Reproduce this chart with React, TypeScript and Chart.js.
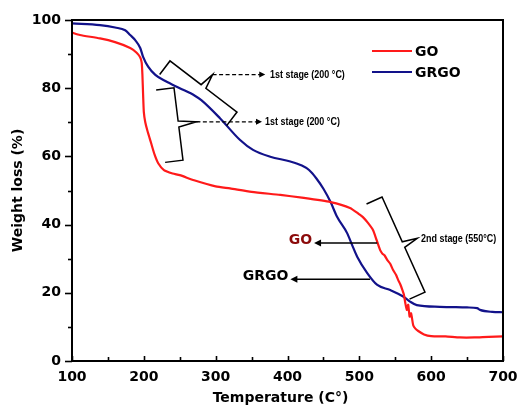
import React, { useEffect, useRef } from "react";
import { Chart, registerables } from "chart.js";

Chart.register(...registerables);

// Thermogravimetric curves: temperature (°C) vs remaining weight (%)
const goTemp = [
  100, 111, 139, 160, 181, 190, 195, 197, 198, 199, 200, 202, 205, 210, 215, 220, 228, 240, 250,
  270, 300, 320, 350, 390, 420, 460, 487, 500, 505, 512, 519, 524, 529, 532, 535, 539, 543, 547,
  551, 554, 557, 560, 562, 564, 566, 568, 570, 572, 575, 578, 582, 590, 600, 620, 640, 660, 680, 700,
];
const goWeight = [
  96.3, 95.6, 94.6, 93.5, 91.8, 90.4, 89.0, 87.5, 84.0, 78.0, 73.0, 70.0, 67.5, 64.0, 60.5, 58.0,
  56.0, 55.0, 54.5, 53.0, 51.2, 50.6, 49.6, 48.7, 47.9, 46.6, 44.9, 43.0, 42.2, 40.5, 38.4, 35.5,
  32.5, 31.5, 31.0, 29.6, 28.5, 26.7, 25.3, 23.8, 22.5, 20.8, 19.5, 17.0, 15.0, 16.5, 13.0, 14.0,
  10.5, 9.5, 8.8, 7.8, 7.3, 7.2, 6.9, 6.9, 7.1, 7.2,
];

const grgoTemp = [
  100, 139, 160, 174, 181, 188, 195, 199, 206, 216, 230, 250, 271, 280, 306, 334, 352, 376, 404,
  420, 430, 440, 450, 460, 469, 483, 490, 497, 511, 525, 543, 561, 570, 580, 612, 650, 664, 668, 685, 700,
];
const grgoWeight = [
  99.0, 98.5, 97.8, 97.0, 95.6, 94.1, 91.8, 89.2, 86.3, 83.9, 82.1, 80.0, 77.8, 76.5, 71.2, 64.8,
  61.9, 59.9, 58.5, 57.3, 56.0, 53.6, 50.5, 46.6, 42.3, 37.5, 34.0, 30.6, 25.8, 22.3, 20.8, 18.9,
  17.5, 16.4, 15.9, 15.7, 15.5, 15.0, 14.4, 14.3,
];

const seriesLabels = ["GO", "GRGO"];
const seriesColors = ["#ff1a1a", "#12128a"];

const xTickValues = [100, 200, 300, 400, 500, 600, 700];
const yTickValues = [0, 20, 40, 60, 80, 100];

const xTitle = "Temperature (C°)";
const yTitle = "Weight loss (%)";

const stageLabels = ["1st stage (200 °C)", "1st stage (200 °C)", "2nd stage (550°C)"];
const calloutLabels = ["GO", "GRGO"];

// Brace end points (data units), tip/hook sizes (px), arrow end and text x (data units)
const braces = [
  { a: [236.4, 88.0], b: [329.7, 73.0], tip: 15, hook: 17, arrowTo: 369, textAt: 375.6, label: 0 },
  { a: [242.0, 80.1], b: [254.5, 58.9], tip: 18, hook: 18, arrowTo: 364.5, textAt: 368.7, label: 1 },
  { a: [531.6, 48.1], b: [591.4, 20.2], tip: 15, hook: 17, arrowTo: null, textAt: 585.8, label: 2 },
];

// Callout arrows: from (x0, y) to arrow tip at x1
const callouts = [
  { x0: 525, x1: 437, y: 34.6, color: "#8b0a0a", label: 0 },
  { x0: 515, x1: 404, y: 24.0, color: "#000000", label: 1 },
];

const BOLD = "bold 14px 'DejaVu Sans', sans-serif";
const SMALL = "bold 11.5px 'Liberation Sans', sans-serif";

function arrowHead(ctx: CanvasRenderingContext2D, x: number, y: number, dir: number, len = 6, half = 3) {
  ctx.beginPath();
  ctx.moveTo(x, y);
  ctx.lineTo(x - dir * len, y - half);
  ctx.lineTo(x - dir * len, y + half);
  ctx.closePath();
  ctx.fill();
}

// condensed small text
function narrowText(ctx: CanvasRenderingContext2D, text: string, x: number, y: number) {
  ctx.save();
  ctx.translate(x, y);
  ctx.scale(0.78, 1);
  ctx.font = SMALL;
  ctx.textAlign = "left";
  ctx.textBaseline = "middle";
  ctx.fillText(text, 0, 0);
  ctx.restore();
}

function drawBrace(
  ctx: CanvasRenderingContext2D,
  ax: number, ay: number, bx: number, by: number,
  hook: number, tip: number
): [number, number] {
  const dx = bx - ax;
  const dy = by - ay;
  const L = Math.hypot(dx, dy);
  const ux = dx / L;
  const uy = dy / L;
  const nx = uy;
  const ny = -ux;
  const mx = (ax + bx) / 2;
  const my = (ay + by) / 2;
  const tx = mx + nx * tip;
  const ty = my + ny * tip;
  ctx.beginPath();
  ctx.moveTo(ax - nx * hook, ay - ny * hook);
  ctx.lineTo(ax, ay);
  ctx.lineTo(mx - ux * 3, my - uy * 3);
  ctx.lineTo(tx, ty);
  ctx.lineTo(mx + ux * 3, my + uy * 3);
  ctx.lineTo(bx, by);
  ctx.lineTo(bx - nx * hook, by - ny * hook);
  ctx.stroke();
  return [tx, ty];
}

const decorPlugin = {
  id: "decor",
  afterDraw(chart: any) {
    const { ctx, chartArea: a, scales } = chart;
    const x = scales.x;
    const y = scales.y;
    ctx.save();

    // frame
    ctx.strokeStyle = "#000";
    ctx.lineWidth = 2;
    ctx.strokeRect(a.left, a.top, a.right - a.left, a.bottom - a.top);

    // y ticks (outward), major every 20, minor every 10
    ctx.lineWidth = 1.6;
    for (let v = 0; v <= 100; v += 10) {
      const py = Math.round(y.getPixelForValue(v)) + 0.5;
      const len = v % 20 === 0 ? 7 : 4;
      ctx.beginPath();
      ctx.moveTo(a.left - len, py);
      ctx.lineTo(a.left, py);
      ctx.stroke();
    }
    // x ticks (inward), major every 100, minor every 50
    for (let v = 100; v <= 700; v += 50) {
      const px = Math.round(x.getPixelForValue(v)) + 0.5;
      const len = v % 100 === 0 ? 5 : 4;
      ctx.beginPath();
      ctx.moveTo(px, a.bottom);
      ctx.lineTo(px, a.bottom - len);
      ctx.stroke();
    }

    // x axis title
    ctx.fillStyle = "#000";
    ctx.font = BOLD;
    ctx.textAlign = "center";
    ctx.textBaseline = "middle";
    ctx.fillText(xTitle, (a.left + a.right) / 2 - 7, chart.height - 9);

    // legend
    const ds = chart.data.datasets;
    ds.forEach((d: any, i: number) => {
      const ly = a.top + 31 + i * 21;
      ctx.strokeStyle = d.borderColor;
      ctx.lineWidth = 2;
      ctx.beginPath();
      ctx.moveTo(a.left + 300, ly);
      ctx.lineTo(a.left + 340, ly);
      ctx.stroke();
      ctx.fillStyle = "#000";
      ctx.font = BOLD;
      ctx.textAlign = "left";
      ctx.textBaseline = "middle";
      ctx.fillText(d.label, a.left + 343, ly + 1);
    });

    // stage braces with dashed arrows
    ctx.strokeStyle = "#000";
    ctx.fillStyle = "#000";
    braces.forEach((b) => {
      ctx.lineWidth = 1.5;
      ctx.setLineDash([]);
      const [tx, ty] = drawBrace(
        ctx,
        x.getPixelForValue(b.a[0]), y.getPixelForValue(b.a[1]),
        x.getPixelForValue(b.b[0]), y.getPixelForValue(b.b[1]),
        b.hook, b.tip
      );
      if (b.arrowTo !== null) {
        const ex = x.getPixelForValue(b.arrowTo);
        ctx.lineWidth = 1.3;
        ctx.setLineDash([4, 2.5]);
        ctx.beginPath();
        ctx.moveTo(tx, ty);
        ctx.lineTo(ex - 5, ty);
        ctx.stroke();
        ctx.setLineDash([]);
        arrowHead(ctx, ex, ty, 1, 6, 3);
      }
      narrowText(ctx, stageLabels[b.label], x.getPixelForValue(b.textAt), ty);
    });

    // callout arrows
    callouts.forEach((c) => {
      const py = y.getPixelForValue(c.y);
      const x0 = x.getPixelForValue(c.x0);
      const x1 = x.getPixelForValue(c.x1);
      ctx.strokeStyle = "#000";
      ctx.fillStyle = "#000";
      ctx.lineWidth = 1.5;
      ctx.setLineDash([]);
      ctx.beginPath();
      ctx.moveTo(x0, py);
      ctx.lineTo(x1 + 5, py);
      ctx.stroke();
      arrowHead(ctx, x1, py, -1, 7, 3.5);
      ctx.fillStyle = c.color;
      ctx.font = BOLD;
      ctx.textAlign = "right";
      ctx.textBaseline = "middle";
      ctx.fillText(calloutLabels[c.label], x1 - 2, py - 3);
    });

    ctx.restore();
  },
};

export default function App() {
  const ref = useRef<HTMLCanvasElement | null>(null);

  useEffect(() => {
    if (!ref.current) return;
    const tickFont = { family: "'DejaVu Sans', sans-serif", weight: "bold" as const, size: 14 };
    const chart = new Chart(ref.current, {
      type: "line",
      data: {
        datasets: [
          {
            label: seriesLabels[0],
            data: goTemp.map((t, i) => ({ x: t, y: goWeight[i] })),
            borderColor: seriesColors[0],
            borderWidth: 2.2,
            pointRadius: 0,
            tension: 0.2,
          },
          {
            label: seriesLabels[1],
            data: grgoTemp.map((t, i) => ({ x: t, y: grgoWeight[i] })),
            borderColor: seriesColors[1],
            borderWidth: 2.2,
            pointRadius: 0,
            cubicInterpolationMode: "monotone",
          },
        ],
      },
      options: {
        animation: false,
        responsive: false,
        events: [],
        layout: { padding: { top: 20, right: 15, left: 0, bottom: 0 } },
        plugins: { legend: { display: false }, tooltip: { enabled: false } },
        scales: {
          x: {
            type: "linear",
            min: 100,
            max: 700,
            afterFit: (s: any) => {
              s.height = 46;
              s.paddingLeft = 0;
              s.paddingRight = 0;
            },
            afterBuildTicks: (s: any) => {
              s.ticks = xTickValues.map((v) => ({ value: v }));
            },
            grid: { display: false, drawTicks: false },
            border: { display: false },
            ticks: { font: tickFont, color: "#000", padding: 8, maxRotation: 0, autoSkip: false },
            title: { display: false, text: xTitle },
          },
          y: {
            type: "linear",
            min: 0,
            max: 100,
            afterFit: (s: any) => {
              s.width = 72;
              s.paddingTop = 0;
              s.paddingBottom = 0;
            },
            afterBuildTicks: (s: any) => {
              s.ticks = yTickValues.map((v) => ({ value: v }));
            },
            grid: { display: false, drawTicks: false },
            border: { display: false },
            ticks: { font: tickFont, color: "#000", padding: 11, autoSkip: false },
            title: {
              display: true,
              text: yTitle,
              color: "#000",
              font: tickFont,
              padding: { top: 10, bottom: 0 },
            },
          },
        },
      },
      plugins: [decorPlugin],
    });
    return () => chart.destroy();
  }, []);

  return (
    <div style={{ position: "fixed", left: 0, top: 0, width: 518, height: 407, background: "#fff" }}>
      <canvas ref={ref} width={518} height={407} style={{ display: "block" }} />
    </div>
  );
}
